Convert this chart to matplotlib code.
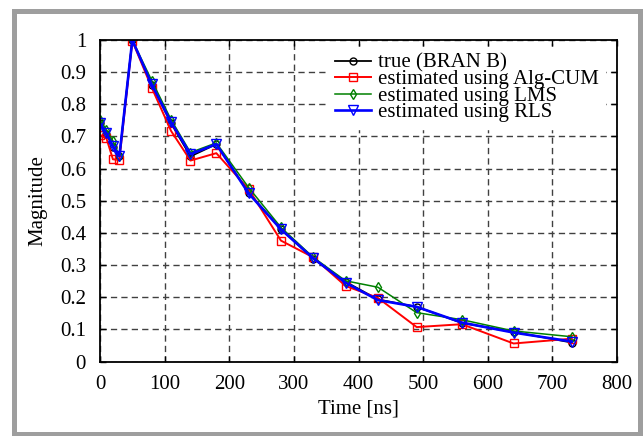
import matplotlib.pyplot as plt
from matplotlib.patches import Rectangle

# tap delays [ns] and magnitudes
delay = [0, 10, 20, 30, 50, 80, 110, 140, 180, 230, 280, 330, 380, 430, 490, 560, 640, 730]
true_mag = [0.741, 0.708, 0.668, 0.638, 1.0, 0.861, 0.741, 0.638, 0.676, 0.525,
            0.412, 0.320, 0.248, 0.193, 0.170, 0.120, 0.092, 0.059]
cum_mag = [0.705, 0.694, 0.629, 0.627, 0.997, 0.852, 0.717, 0.625, 0.648, 0.536,
           0.376, 0.324, 0.235, 0.198, 0.107, 0.116, 0.056, 0.071]
lms_mag = [0.752, 0.720, 0.686, 0.639, 1.0, 0.874, 0.752, 0.650, 0.680, 0.541,
           0.417, 0.324, 0.251, 0.231, 0.152, 0.130, 0.095, 0.077]
rls_mag = [0.741, 0.710, 0.670, 0.639, 1.0, 0.862, 0.744, 0.645, 0.676, 0.523,
           0.411, 0.321, 0.245, 0.191, 0.170, 0.121, 0.090, 0.062]

plt.rcParams["font.family"] = ["Liberation Serif", "DejaVu Serif"]
plt.rcParams["font.size"] = 15

fig = plt.figure(figsize=(6.44, 4.36), dpi=100)
ax = fig.add_axes([100 / 644, 1 - 361.5 / 436, 517 / 644, 321.5 / 436])

ax.plot(delay, true_mag, color="black", marker="o", ms=5, mfc="none", lw=1.3,
        label="true (BRAN B)")
ax.plot(delay, cum_mag, color="red", marker="s", ms=6, mfc="none", lw=1.4,
        label="estimated using Alg-CUM")
ax.plot(delay, lms_mag, color="green", marker="d", ms=5.5, mfc="none", lw=1.1,
        label="estimated using LMS")
ax.plot(delay, rls_mag, color="blue", marker="v", ms=6.5, mfc="none", lw=1.9,
        label="estimated using RLS")

ax.set_xlim(0, 800)
ax.set_ylim(0, 1)
ax.set_xticks(range(0, 801, 100))
ax.set_yticks([i / 10 for i in range(11)])
ax.set_yticklabels(["0", "0.1", "0.2", "0.3", "0.4", "0.5", "0.6", "0.7", "0.8", "0.9", "1"])
ax.tick_params(axis="both", direction="in", top=True, right=True, length=4, width=1)
ax.tick_params(axis="y", pad=10)
ax.tick_params(axis="x", pad=10)
ax.grid(True, color="0.25", linestyle=(0, (4.5, 3)), linewidth=1)
for s in ax.spines.values():
    s.set_linewidth(1.3)

ax.set_xlabel("Time [ns]", labelpad=4)
ax.set_ylabel("Magnitude", labelpad=9)

leg = ax.legend(loc="upper left", bbox_to_anchor=(0.443, 0.978), frameon=True,
                fancybox=False, edgecolor="white", framealpha=1,
                handlelength=1.7, handletextpad=0.35, labelspacing=-0.15,
                borderpad=0.3, borderaxespad=0)

fig.patches.append(Rectangle((13.5, 2), 626, 423.5, transform=None, fill=False,
                             edgecolor="#9e9e9e", linewidth=3.6))

fig.savefig("out.png", dpi=100)
